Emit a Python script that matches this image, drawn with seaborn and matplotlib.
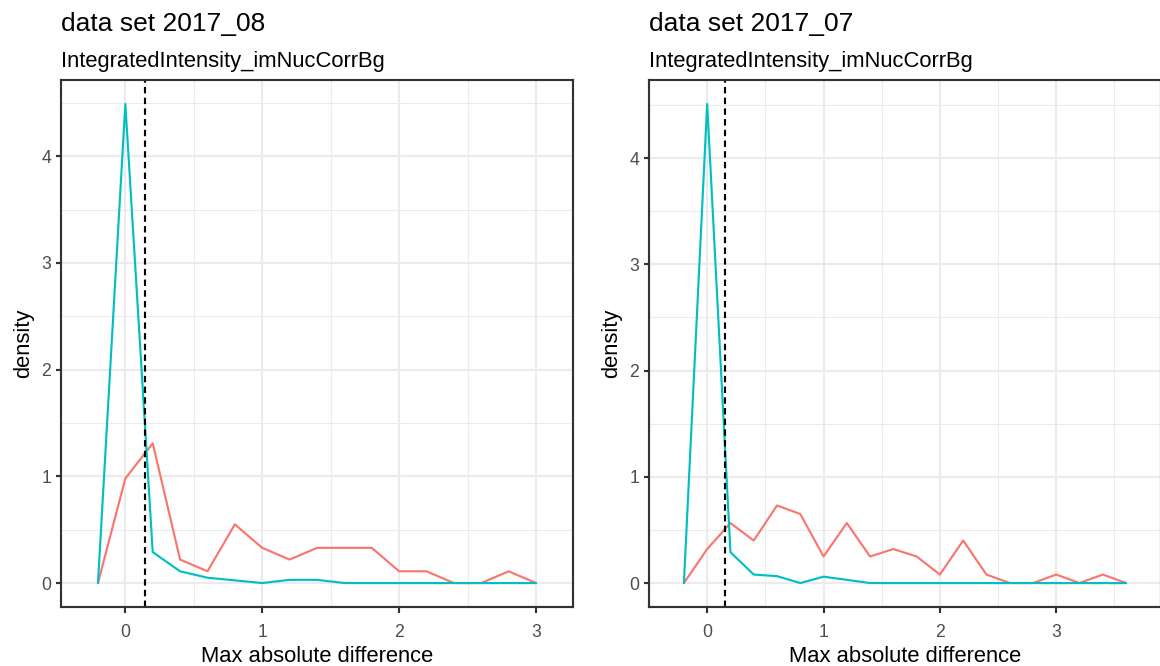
import numpy as np
import pandas as pd
import matplotlib
matplotlib.use("Agg")
import matplotlib.pyplot as plt
from matplotlib.ticker import MultipleLocator
import seaborn as sns

# ---------------- data ----------------
x_left = [-0.2, 0.0, 0.2, 0.4, 0.6, 0.8, 1.0, 1.2, 1.4, 1.6, 1.8, 2.0, 2.2, 2.4, 2.6, 2.8, 3.0]
red_left = [0, 0.98, 1.31, 0.22, 0.11, 0.55, 0.33, 0.22, 0.33, 0.33, 0.33, 0.11, 0.11, 0, 0, 0.11, 0]
cyan_left = [0, 4.49, 0.29, 0.11, 0.05, 0.025, 0, 0.03, 0.03, 0, 0, 0, 0, 0, 0, 0, 0]

x_right = [-0.2, 0.0, 0.2, 0.4, 0.6, 0.8, 1.0, 1.2, 1.4, 1.6, 1.8, 2.0, 2.2, 2.4, 2.6, 2.8, 3.0, 3.2, 3.4, 3.6]
red_right = [0, 0.32, 0.565, 0.40, 0.73, 0.65, 0.25, 0.565, 0.25, 0.32, 0.25, 0.08, 0.40, 0.08, 0, 0, 0.08, 0, 0.08, 0]
cyan_right = [0, 4.51, 0.29, 0.08, 0.065, 0, 0.06, 0.03, 0, 0, 0, 0, 0, 0, 0, 0, 0, 0, 0, 0]

groups = ["FALSE", "TRUE"]
palette = {"FALSE": "#F8766D", "TRUE": "#00BFC4"}
thresholds = [0.14, 0.15]
titles = ["data set 2017_08", "data set 2017_07"]
subtitle = "IntegratedIntensity_imNucCorrBg"
x_ticks_left = [0, 1, 2, 3]
x_ticks_right = [0, 1, 2, 3]
y_ticks = [0, 1, 2, 3, 4]

def long_df(x, red, cyan):
    return pd.DataFrame({
        "x": list(x) + list(x),
        "density": list(red) + list(cyan),
        "grp": [groups[0]] * len(x) + [groups[1]] * len(x),
    })

df_left = long_df(x_left, red_left, cyan_left)
df_right = long_df(x_right, red_right, cyan_right)

# ---------------- style ----------------
sns.set_theme(style="white")
plt.rcParams["font.family"] = ["Liberation Sans", "DejaVu Sans"]

DPI = 144
W, H = 1160, 666
fig = plt.figure(figsize=(W / DPI, H / DPI), dpi=DPI)

def px_axes(x0, y0, x1, y1):
    return fig.add_axes([x0 / W, 1 - y1 / H, (x1 - x0) / W, (y1 - y0) / H])

ax_l = px_axes(61, 80, 573, 607)
ax_r = px_axes(649, 80, 1161, 607)

panels = [
    (ax_l, df_left, (-0.47, 3.27), (-0.2245, 4.7145), x_ticks_left, thresholds[0], 61, titles[0]),
    (ax_r, df_right, (-0.5, 3.9), (-0.2255, 4.7355), x_ticks_right, thresholds[1], 649, titles[1]),
]

lw = 1.07
for ax, df, xl, yl, xt, thr, left_px, title in panels:
    ax.set_facecolor("white")
    sns.lineplot(data=df, x="x", y="density", hue="grp", palette=palette,
                 ax=ax, legend=False, linewidth=lw, estimator=None, sort=False)
    ax.axvline(thr, color="black", linestyle=(0, (3, 2)), linewidth=lw)
    ax.set_xlim(*xl)
    ax.set_ylim(*yl)
    ax.set_xticks(xt)
    ax.set_yticks(y_ticks)
    ax.xaxis.set_minor_locator(MultipleLocator(0.5))
    ax.yaxis.set_minor_locator(MultipleLocator(0.5))
    ax.grid(True, which="major", color="#EBEBEB", linewidth=lw)
    ax.grid(True, which="minor", color="#EBEBEB", linewidth=lw * 0.5)
    ax.set_axisbelow(True)
    for s in ax.spines.values():
        s.set_visible(True)
        s.set_color("#333333")
        s.set_linewidth(lw)
    ax.tick_params(which="major", direction="out", length=2.75, width=lw,
                   color="#333333", labelcolor="#4D4D4D", labelsize=8.8, pad=2.2,
                   bottom=True, left=True)
    ax.tick_params(axis="x", which="major", pad=5.8)
    ax.tick_params(which="minor", length=0)
    ax.set_xlabel("Max absolute difference", fontsize=11, color="black", labelpad=2.5)
    ax.set_ylabel("density", fontsize=11, color="black", labelpad=3.5)
    fig.text(left_px / W, 1 - 31.5 / H, title, fontsize=13.2, color="black",
             ha="left", va="baseline")
    fig.text(left_px / W, 1 - 67 / H, subtitle, fontsize=11, color="black",
             ha="left", va="baseline")

fig.savefig("out.png", dpi=DPI, facecolor="white")
